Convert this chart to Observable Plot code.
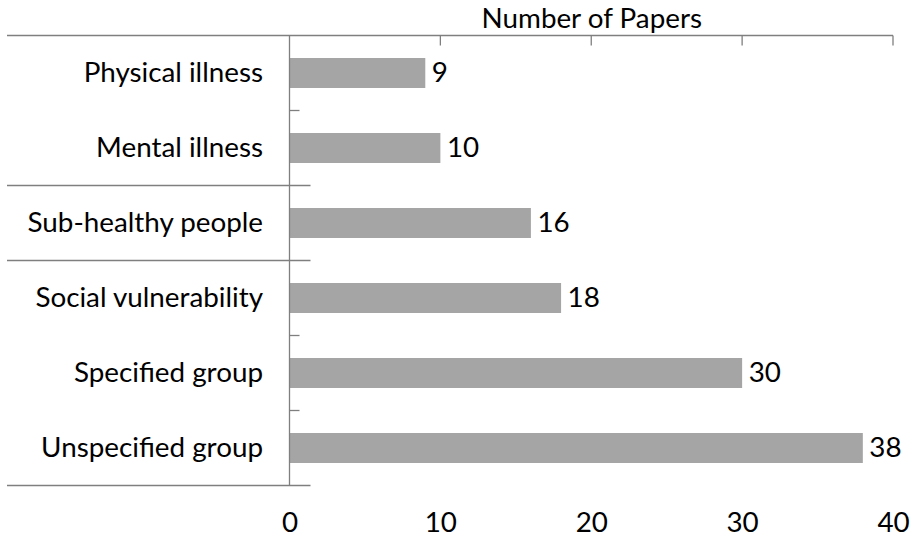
<!DOCTYPE html>
<html>
<head>
<meta charset="utf-8">
<script src="https://cdn.jsdelivr.net/npm/d3@7"></script>
<script src="https://cdn.jsdelivr.net/npm/@observablehq/plot@0.6"></script>
<style>
  html, body { margin: 0; padding: 0; background: #fff; }
  svg { display: block; }
</style>
</head>
<body>
<div id="chart"></div>
<script>
const categories = ["Physical illness", "Mental illness", "Sub-healthy people", "Social vulnerability", "Specified group", "Unspecified group"];
const values = [9, 10, 16, 18, 30, 38];
const xTicks = [0, 10, 20, 30, 40];
const topTicks = [10, 20, 30, 40];
const axisTitle = "Number of Papers";
// which band boundaries get a long group separator (index = boundary above category i; last = bottom)
const longBoundaries = [0, 2, 3, 6];

const data = categories.map((c, i) => ({category: c, value: values[i]}));

const FONT = "Lato, 'Liberation Sans Narrow', sans-serif";
const FS = 27.8;
const LINE = "#7f7f7f";

const chart = Plot.plot({
  width: 917,
  height: 541,
  marginLeft: 289.5,
  marginRight: 24,
  marginTop: 34,
  marginBottom: 55,
  style: {fontFamily: FONT, fontSize: FS + "px", color: "#000", background: "#fff", overflow: "visible"},
  x: {domain: [0, 40]},
  y: {domain: categories, paddingInner: 0.6, paddingOuter: 0.3},
  marks: [
    Plot.barX(data, {x: "value", y: "category", fill: "#a5a5a5"}),
    Plot.text(data, {x: "value", y: "category", text: d => String(d.value), dx: 6, textAnchor: "start", fontSize: FS, fill: "#000"}),
    Plot.axisY({tickSize: 0, tickPadding: 27, label: null, fontSize: FS, fill: "#000"}),
    Plot.axisX({anchor: "bottom", ticks: xTicks, tickSize: 0, tickPadding: 26, label: null, fontSize: FS, fill: "#000"}),
    Plot.text([axisTitle], {x: 20, frameAnchor: "top", lineAnchor: "bottom", dy: -7, fontSize: FS, fill: "#000"})
  ]
});

document.getElementById("chart").appendChild(chart);

// frame lines drawn from the plot's own scales
const xs = chart.scale("x");
const ys = chart.scale("y");
const svg = d3.select(chart);
const g = svg.append("g").attr("stroke", LINE).attr("stroke-width", 1.3).attr("fill", "none");
const x0 = xs.apply(0);
const gap = (ys.step - ys.bandwidth) / 2;
const bounds = categories.map(c => ys.apply(c) - gap);
bounds.push(ys.apply(categories[categories.length - 1]) + ys.bandwidth + gap);
const yTop = bounds[0], yBottom = bounds[bounds.length - 1];
const leftEdge = 7;
// top line
g.append("line").attr("x1", leftEdge).attr("x2", xs.apply(40)).attr("y1", yTop).attr("y2", yTop);
// vertical axis
g.append("line").attr("x1", x0).attr("x2", x0).attr("y1", yTop).attr("y2", yBottom);
// top ticks pointing inside
topTicks.forEach(t => {
  g.append("line").attr("x1", xs.apply(t)).attr("x2", xs.apply(t)).attr("y1", yTop).attr("y2", yTop + 10);
});
// category boundaries
bounds.forEach((b, i) => {
  if (i === 0) return;
  if (longBoundaries.includes(i)) {
    g.append("line").attr("x1", leftEdge).attr("x2", x0 + 21).attr("y1", b).attr("y2", b);
  } else {
    g.append("line").attr("x1", x0).attr("x2", x0 + 10).attr("y1", b).attr("y2", b);
  }
});
</script>
</body>
</html>
